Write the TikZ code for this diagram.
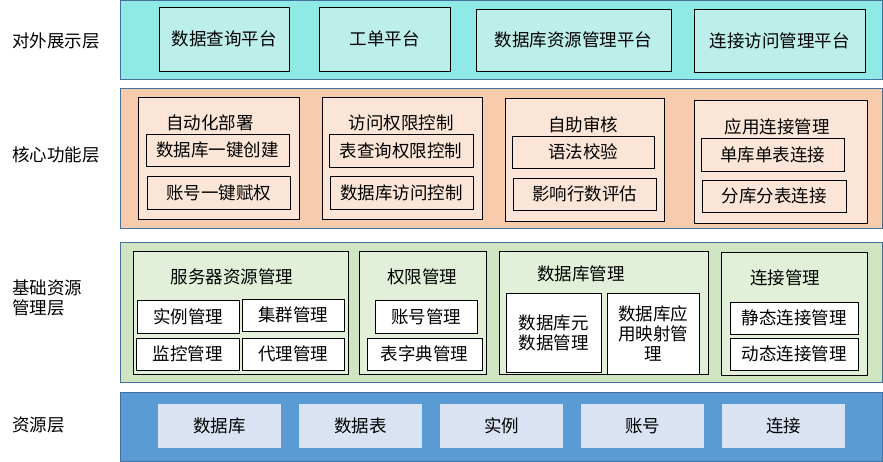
\documentclass[tikz,border=0pt]{standalone}
\usepackage{fontspec}
\setmainfont{Noto Sans CJK SC}
\usepackage{tikz}
\usetikzlibrary{positioning}
\definecolor{bandline}{HTML}{41719C}
\definecolor{showbg}{HTML}{8FE9E4}
\definecolor{showbox}{HTML}{BCEEEA}
\definecolor{corebg}{HTML}{F8CBAD}
\definecolor{corebox}{HTML}{FBE5D6}
\definecolor{basebg}{HTML}{CFE5C2}
\definecolor{basebox}{HTML}{E2F0D9}
\definecolor{resbg}{HTML}{5B9BD5}
\definecolor{resbox}{HTML}{DAE3F3}

\begin{document}
\begin{tikzpicture}[
  x=1pt, y=-1pt,
  txt/.style={font=\fontsize{17.5}{20}\selectfont},
  band/.style={draw=bandline, line width=1pt, inner sep=0pt,
    minimum width=762pt},
  group/.style={draw=black, line width=0.9pt, inner sep=0pt},
  item/.style={draw=black, line width=0.9pt, inner sep=0pt, align=center, txt},
  title/.style={txt, inner sep=0pt},
  side/.style={txt, inner sep=0pt, align=left, anchor=west},
]
  \useasboundingbox (0,0) rectangle (883,462);

  % Layer bands
  \node[band, fill=showbg, minimum height=79pt] (show) at (501,40.5) {};
  \node[band, fill=corebg, minimum height=140pt] (core) at (501,159) {};
  \node[band, fill=basebg, minimum height=139pt] (base) at (501,312.5) {};
  \node[band, fill=resbg, minimum height=69pt] (res) at (501,426.5) {};

  % Layer names
  \node[side] (showlbl) at (12,41) {对外展示层};
  \node[side] (corelbl) at (12,155) {核心功能层};
  \node[side] (baselbl) at (12,298) {基础资源\\管理层};
  \node[side] (reslbl) at (12,425) {资源层};

  % Presentation layer
  \node[item, fill=showbox, minimum width=130pt, minimum height=64pt] (query) at (224,39) {数据查询平台};
  \node[item, fill=showbox, minimum width=131pt, minimum height=64pt] (order) at (384.5,39) {工单平台};
  \node[item, fill=showbox, minimum width=195pt, minimum height=62pt] (dbres) at (573.5,40) {数据库资源管理平台};
  \node[item, fill=showbox, minimum width=171pt, minimum height=63pt] (connplat) at (779.5,40.5) {连接访问管理平台};

  % Core function layer
  \node[group, fill=corebox, minimum width=161pt, minimum height=122pt] (deploy) at (218.5,158) {};
  \node[title] (deploy-t) at (210,123) {自动化部署};
  \node[item, fill=corebox, minimum width=143pt, minimum height=32pt] (create) at (217.5,150) {数据库一键创建};
  \node[item, fill=corebox, minimum width=143pt, minimum height=33pt] (grant) at (218.5,192.5) {账号一键赋权};

  \node[group, fill=corebox, minimum width=160pt, minimum height=122pt] (acl) at (402,158) {};
  \node[title] (acl-t) at (401,123) {访问权限控制};
  \node[item, fill=corebox, minimum width=144pt, minimum height=33pt] (tblacl) at (401,150.5) {表查询权限控制};
  \node[item, fill=corebox, minimum width=143pt, minimum height=33pt] (dbacl) at (401.5,192.5) {数据库访问控制};

  \node[group, fill=corebox, minimum width=159pt, minimum height=123pt] (audit) at (584.5,159.5) {};
  \node[title] (audit-t) at (583,125) {自助审核};
  \node[item, fill=corebox, minimum width=142pt, minimum height=32pt] (syntax) at (583,152) {语法校验};
  \node[item, fill=corebox, minimum width=143pt, minimum height=32pt] (rows) at (584.5,194) {影响行数评估};

  \node[group, fill=corebox, minimum width=173pt, minimum height=123pt] (appconn) at (780.5,161.5) {};
  \node[title] (appconn-t) at (777,127) {应用连接管理};
  \node[item, fill=corebox, minimum width=143pt, minimum height=33pt] (single) at (772.5,154.5) {单库单表连接};
  \node[item, fill=corebox, minimum width=144pt, minimum height=32pt] (shard) at (774,196) {分库分表连接};

  % Base resource management layer
  \node[group, fill=basebox, minimum width=215pt, minimum height=123pt] (srv) at (240.5,312.5) {};
  \node[title] (srv-t) at (232,277) {服务器资源管理};
  \node[item, fill=white, minimum width=102pt, minimum height=33pt] (inst) at (188,316.5) {实例管理};
  \node[item, fill=white, minimum width=102pt, minimum height=32pt] (cluster) at (293,315) {集群管理};
  \node[item, fill=white, minimum width=103pt, minimum height=32pt] (mon) at (187.5,354) {监控管理};
  \node[item, fill=white, minimum width=102pt, minimum height=32pt] (proxy) at (293,354) {代理管理};

  \node[group, fill=basebox, minimum width=127pt, minimum height=123pt] (perm) at (422.5,312.5) {};
  \node[title] (perm-t) at (422,277) {权限管理};
  \node[item, fill=white, minimum width=102pt, minimum height=33pt] (acct) at (426,316.5) {账号管理};
  \node[item, fill=white, minimum width=115pt, minimum height=32pt] (dict) at (424.5,354) {表字典管理};

  \node[group, fill=basebox, minimum width=209pt, minimum height=123pt] (dbm) at (603.5,312.5) {};
  \node[title] (dbm-t) at (581,274) {数据库管理};
  \node[item, fill=white, minimum width=95pt, minimum height=79pt] (meta) at (553.5,332.5) {数据库元\\数据管理};
  \node[item, fill=white, minimum width=92pt, minimum height=81pt] (mapping) at (653,333.5) {数据库应\\用映射管\\理};

  \node[group, fill=basebox, minimum width=146pt, minimum height=123pt] (cm) at (794,313.5) {};
  \node[title] (cm-t) at (785,278) {连接管理};
  \node[item, fill=white, minimum width=128pt, minimum height=32pt] (static) at (794,318) {静态连接管理};
  \node[item, fill=white, minimum width=128pt, minimum height=32pt] (dynamic) at (794,354) {动态连接管理};

  % Resource layer
  \node[item, draw=none, fill=resbox, minimum width=123pt, minimum height=44pt] (db) at (219.5,426) {数据库};
  \node[item, draw=none, fill=resbox, minimum width=123pt, minimum height=44pt] (tbl) at (360.5,426) {数据表};
  \node[item, draw=none, fill=resbox, minimum width=123pt, minimum height=44pt] (ins) at (501.5,426) {实例};
  \node[item, draw=none, fill=resbox, minimum width=123pt, minimum height=44pt] (acc) at (642.5,426) {账号};
  \node[item, draw=none, fill=resbox, minimum width=123pt, minimum height=44pt] (con) at (783.5,426) {连接};
\end{tikzpicture}
\end{document}
